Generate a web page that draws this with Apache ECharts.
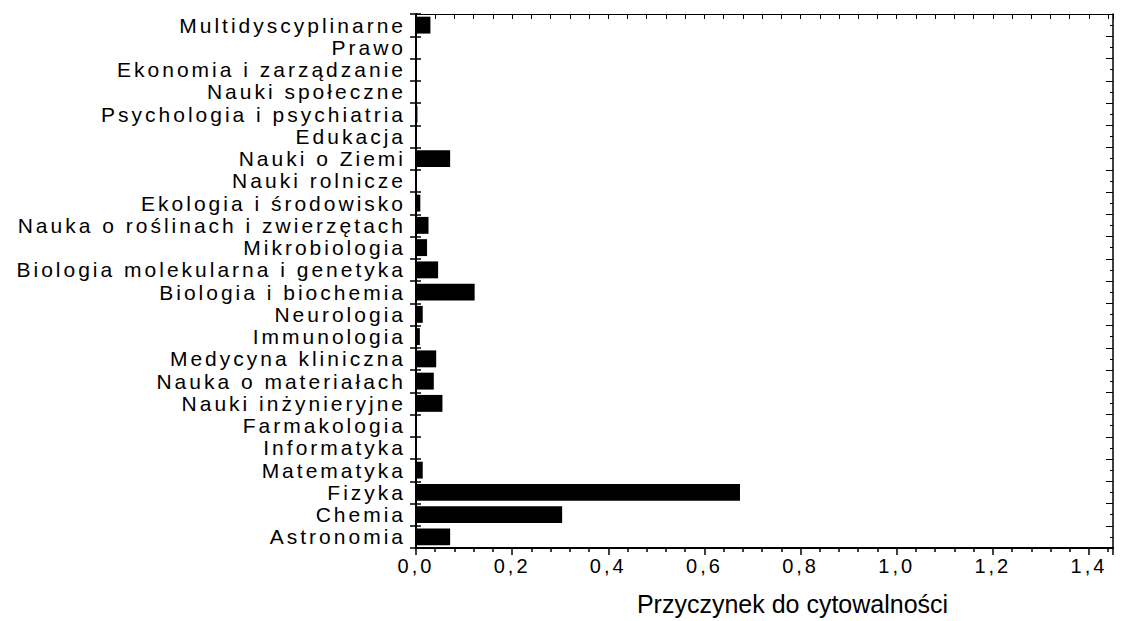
<!DOCTYPE html>
<html>
<head>
    <meta charset="UTF-8">
    <title>Przyczynek do cytowalności</title>
    <script type="text/javascript" src="https://cdn.jsdelivr.net/npm/echarts/dist/echarts.min.js"></script>
</head>

<style type="text/css">
html, body {
	margin: 0; padding: 0; background: #fff;
}

#chart {
	width: 1127px; height: 621px;
}

/* 原图文字字距较宽 */
#chart text {
	letter-spacing: 3px;
}

#chart text[style*="25px"] {
	letter-spacing: 0;
}
</style>
<body>
    <div id="chart"></div>
</body>
</html>

<script type="text/javascript">

        // 分类（从下到上）
        var categories = [
            'Astronomia', 'Chemia', 'Fizyka', 'Matematyka', 'Informatyka',
            'Farmakologia', 'Nauki inżynieryjne', 'Nauka o materiałach',
            'Medycyna kliniczna', 'Immunologia', 'Neurologia', 'Biologia i biochemia',
            'Biologia molekularna i genetyka', 'Mikrobiologia',
            'Nauka o roślinach i zwierzętach', 'Ekologia i środowisko', 'Nauki rolnicze',
            'Nauki o Ziemi', 'Edukacja', 'Psychologia i psychiatria', 'Nauki społeczne',
            'Ekonomia i zarządzanie', 'Prawo', 'Multidyscyplinarne'
        ];

        // 各分类的数值
        var values = [
            0.071, 0.304, 0.674, 0.014, 0,
            0, 0.055, 0.037,
            0.042, 0.008, 0.014, 0.122,
            0.046, 0.023,
            0.026, 0.009, 0.001,
            0.071, 0.002, 0.003, 0,
            0, 0, 0.030
        ];

        var axisName = 'Przyczynek do cytowalności';
        var xMin = 0, xMax = 1.45, xStep = 0.2;

        var font = 'Liberation Sans, Arial, sans-serif';

        var myChart = echarts.init(document.getElementById('chart'), null, {renderer: 'svg'});

        var option = {
            backgroundColor: '#fff',
            animation: false,
            grid: {
                left: 416, right: 14, top: 14, bottom: 73,
                containLabel: false,
                outerBoundsMode: 'none'
            },
            xAxis: [{
                type: 'value',
                position: 'bottom',
                min: xMin, max: xMax, interval: xStep,
                name: axisName,
                nameLocation: 'middle',
                nameGap: 43,
                nameTextStyle: {
                    color: '#000', fontSize: 25, fontFamily: font,
                    padding: [0, 0, 0, 56]
                },
                axisLine: {show: true, lineStyle: {color: '#000', width: 2}},
                axisTick: {show: true, inside: false, length: 7, lineStyle: {color: '#000', width: 1.5}},
                minorTick: {show: true, splitNumber: 5, length: 4, lineStyle: {color: '#000', width: 1.5}},
                axisLabel: {
                    color: '#000', fontSize: 20, fontFamily: font, margin: 8,
                    showMaxLabel: false,
                    formatter: function (v) { return v.toFixed(1).replace('.', ','); }
                },
                splitLine: {show: false}
            }, {
                // 上边框
                type: 'value',
                position: 'top',
                min: xMin, max: xMax, interval: 0.04,
                axisLine: {show: true, lineStyle: {color: '#000', width: 1}},
                axisTick: {show: true, inside: true, length: 5, lineStyle: {color: '#000', width: 1}},
                axisLabel: {show: false},
                splitLine: {show: false}
            }],
            yAxis: [{
                type: 'category',
                position: 'left',
                data: categories,
                axisLine: {show: true, lineStyle: {color: '#000', width: 2}},
                axisTick: {show: true, inside: false, length: 6, lineStyle: {color: '#000', width: 1.5}},
                axisLabel: {color: '#000', fontSize: 21, fontFamily: font, margin: 10, interval: 0},
                splitLine: {show: false}
            }, {
                // 左轴向内的刻度
                type: 'category',
                position: 'left',
                data: categories,
                axisLine: {show: false},
                axisTick: {show: true, inside: true, length: 5, lineStyle: {color: '#000', width: 1.5}},
                axisLabel: {show: false},
                splitLine: {show: false}
            }, {
                // 右边框
                type: 'value',
                position: 'right',
                min: 0, max: categories.length, interval: 1,
                axisLine: {show: true, lineStyle: {color: '#000', width: 1.5}},
                axisTick: {show: true, inside: true, length: 7, lineStyle: {color: '#000', width: 1}},
                minorTick: {show: true, splitNumber: 2, length: 3, lineStyle: {color: '#000', width: 1}},
                axisLabel: {show: false},
                splitLine: {show: false}
            }],
            series: [{
                type: 'bar',
                xAxisIndex: 0,
                yAxisIndex: 0,
                data: values,
                barCategoryGap: '24%',
                itemStyle: {color: '#000'}
            }]
        };

        myChart.setOption(option);
</script>
